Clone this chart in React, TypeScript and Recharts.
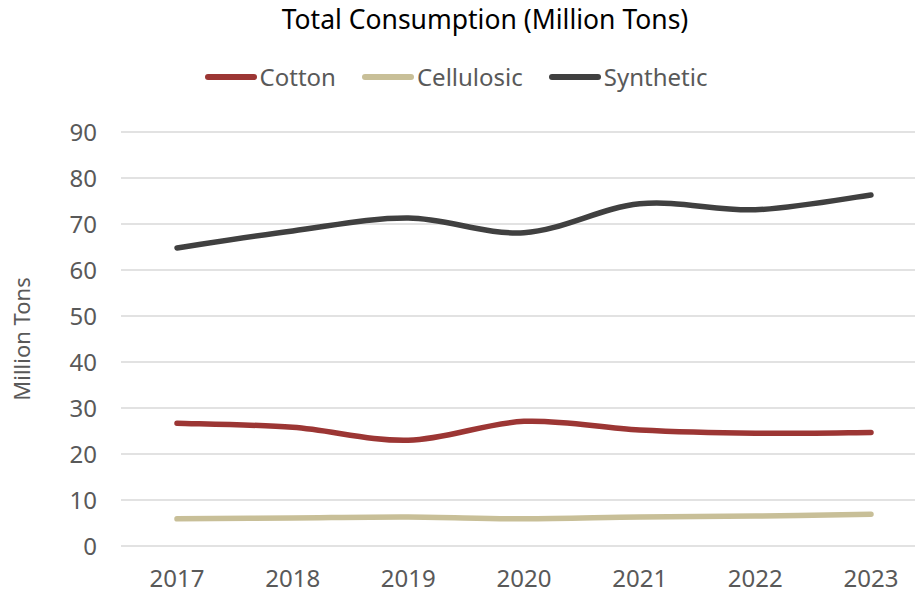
import { CartesianGrid, Legend, Line, LineChart, XAxis, YAxis } from 'recharts'

const years = ['2017', '2018', '2019', '2020', '2021', '2022', '2023']
const cotton = [26.7, 25.8, 23.0, 27.1, 25.2, 24.5, 24.7]
const cellulosic = [5.9, 6.1, 6.3, 5.9, 6.3, 6.5, 6.9]
const synthetic = [64.8, 68.5, 71.3, 68.1, 74.4, 73.1, 76.3]
const yTicks = [0, 10, 20, 30, 40, 50, 60, 70, 80, 90]
const legendOrder = ['Cotton', 'Cellulosic', 'Synthetic']

const rows = years.map((year, i) => ({
  year,
  cotton: cotton[i],
  cellulosic: cellulosic[i],
  synthetic: synthetic[i],
}))

const font = '"Noto Sans", "Open Sans", sans-serif'
const tickStyle = { fontSize: 24, fill: '#595959', fontFamily: font }

// Excel-like smoothed line (Catmull-Rom through the points), used as a d3 curve factory
function smoothCurve(ctx: any) {
  let pts: [number, number][] = []
  return {
    areaStart() {},
    areaEnd() {},
    lineStart() {
      pts = []
    },
    point(x: number, y: number) {
      pts.push([+x, +y])
    },
    lineEnd() {
      if (!pts.length) return
      ctx.moveTo(pts[0][0], pts[0][1])
      for (let i = 0; i < pts.length - 1; i++) {
        const p0 = pts[i - 1] ?? pts[i]
        const p1 = pts[i]
        const p2 = pts[i + 1]
        const p3 = pts[i + 2] ?? p2
        ctx.bezierCurveTo(
          p1[0] + (p2[0] - p0[0]) / 6,
          p1[1] + (p2[1] - p0[1]) / 6,
          p2[0] - (p3[0] - p1[0]) / 6,
          p2[1] - (p3[1] - p1[1]) / 6,
          p2[0],
          p2[1],
        )
      }
    },
  }
}

function LegendRow({ payload }: { payload?: any[] }) {
  const items = [...(payload ?? [])].sort(
    (a, b) => legendOrder.indexOf(a.value) - legendOrder.indexOf(b.value),
  )
  return (
    <div style={{ display: 'flex', justifyContent: 'center', gap: 26, fontFamily: font }}>
      {items.map((p) => (
        <div key={p.value} style={{ display: 'flex', alignItems: 'center', gap: 3 }}>
          <span
            style={{
              display: 'inline-block',
              width: 52,
              height: 6,
              borderRadius: 3,
              background: p.color,
            }}
          />
          <span style={{ fontSize: 24, color: '#595959' }}>{p.value}</span>
        </div>
      ))}
    </div>
  )
}

export default function App() {
  return (
    <div style={{ position: 'absolute', left: 0, top: 0, width: 915, height: 592, overflow: 'hidden', background: '#fff' }}>
      <div
        style={{
          position: 'absolute',
          top: 1,
          left: 0,
          width: 970,
          textAlign: 'center',
          fontFamily: font,
          fontSize: 26.5,
          color: '#000',
        }}
      >
        Total Consumption (Million Tons)
      </div>
      <LineChart
        width={935}
        height={592}
        data={rows}
        margin={{ top: 99, right: 8, bottom: 0, left: 0 }}
      >
        <CartesianGrid vertical={false} stroke="#d9d9d9" strokeWidth={1.5} />
        <XAxis
          dataKey="year"
          axisLine={false}
          tickLine={false}
          height={46}
          tick={tickStyle}
          tickMargin={18}
          padding={{ left: 56, right: 56 }}
        />
        <YAxis
          width={121}
          domain={[0, 90]}
          ticks={yTicks}
          axisLine={false}
          tickLine={false}
          tick={tickStyle}
          tickMargin={18}
          label={{
            value: 'Million Tons',
            angle: -90,
            position: 'insideLeft',
            offset: 22,
            style: { fontSize: 22, fill: '#595959', fontFamily: font, textAnchor: 'middle' },
          }}
        />
        <Legend
          verticalAlign="top"
          content={<LegendRow />}
          wrapperStyle={{ top: 60, left: 21, width: 870 }}
        />
        <Line type={smoothCurve as any} dataKey="cotton" name="Cotton" stroke="#9c3634" strokeWidth={5.5} strokeLinecap="round" dot={false} isAnimationActive={false} />
        <Line type={smoothCurve as any} dataKey="cellulosic" name="Cellulosic" stroke="#c8bf98" strokeWidth={5.5} strokeLinecap="round" dot={false} isAnimationActive={false} />
        <Line type={smoothCurve as any} dataKey="synthetic" name="Synthetic" stroke="#404040" strokeWidth={5.5} strokeLinecap="round" dot={false} isAnimationActive={false} />
      </LineChart>
    </div>
  )
}
